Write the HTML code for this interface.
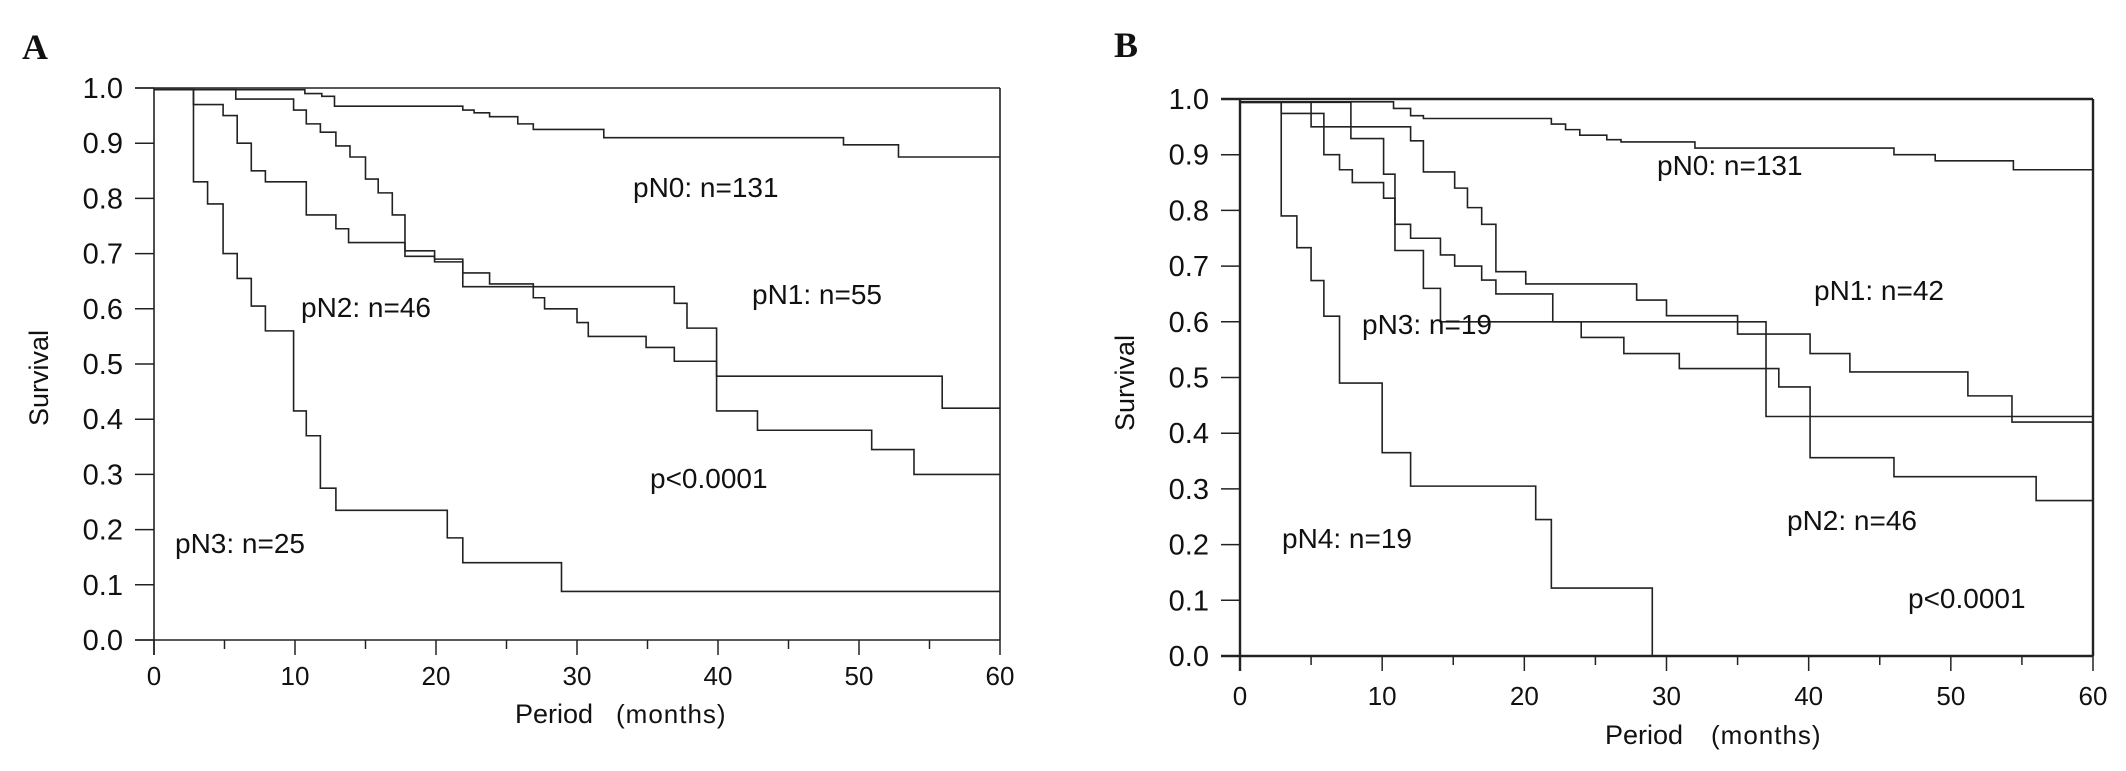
<!DOCTYPE html>
<html><head><meta charset="utf-8">
<style>
html,body{margin:0;padding:0;background:#fff;}
svg{display:block;}
text{font-family:"Liberation Sans",Arial,sans-serif;fill:#111;}
</style></head>
<body>
<svg id="fig" width="2126" height="771" viewBox="0 0 2126 771" xmlns="http://www.w3.org/2000/svg">
  <text x="22" y="59" style="font-family:'Liberation Serif',serif;font-weight:bold;font-size:36px">A</text>
  <text x="1114" y="57" style="font-family:'Liberation Serif',serif;font-weight:bold;font-size:36px">B</text>
  <g id="panelA"></g>
  <g id="panelB"></g>
</svg>
<script>
// ---------- data ----------
const xTicks = [0,10,20,30,40,50,60];
const yTicks = [0.0,0.1,0.2,0.3,0.4,0.5,0.6,0.7,0.8,0.9,1.0];

// Panel A
const aN0Times = [10.7,11.9,12.8,21.9,22.7,23.8,25.8,26.9,31.9,48.9,52.8];
const aN0Surv  = [0.99,0.985,0.967,0.96,0.955,0.948,0.935,0.925,0.91,0.897,0.875];
const aN1Times = [5.8,9.9,10.8,11.8,12.9,13.9,15.0,15.9,16.9,17.8,19.9,21.9,23.8,26.9,27.7,30.0,30.8,34.9,36.9,39.9,42.8,50.9,53.9];
const aN1Surv  = [0.98,0.96,0.935,0.92,0.895,0.875,0.835,0.81,0.77,0.695,0.685,0.665,0.645,0.62,0.60,0.575,0.55,0.53,0.505,0.415,0.38,0.345,0.30];
const aN2Times = [2.8,4.9,5.9,6.9,7.9,10.8,12.9,13.8,17.8,19.9,21.9,36.9,37.8,39.9,55.9];
const aN2Surv  = [0.97,0.95,0.90,0.85,0.83,0.77,0.745,0.72,0.705,0.69,0.64,0.61,0.565,0.478,0.42];
const aN3Times = [2.8,3.8,4.9,5.9,6.9,7.9,9.9,10.8,11.8,12.9,20.8,21.9,28.9];
const aN3Surv  = [0.83,0.79,0.70,0.655,0.605,0.56,0.415,0.37,0.275,0.235,0.185,0.14,0.088];

// Panel B
const bN0Times = [10.8,12.0,12.9,21.9,22.9,23.9,25.8,26.8,32.0,46.0,48.9,54.4];
const bN0Surv  = [0.983,0.97,0.965,0.955,0.945,0.935,0.927,0.923,0.912,0.90,0.889,0.873];
const bN1Times = [5.0,12.0,12.9,15.1,16.0,17.0,18.0,20.1,27.9,30.0,35.0,40.1,42.9,51.2,54.3];
const bN1Surv  = [0.95,0.925,0.869,0.84,0.805,0.775,0.69,0.668,0.639,0.611,0.578,0.543,0.510,0.467,0.42];
const bN2Times = [2.9,5.9,7.0,7.9,10.1,10.9,12.0,14.1,15.1,17.0,18.0,22.0,24.0,27.0,30.9,37.9,40.1,46.0,56.0];
const bN2Surv  = [0.974,0.90,0.873,0.85,0.822,0.775,0.75,0.72,0.70,0.675,0.65,0.60,0.572,0.543,0.516,0.483,0.356,0.322,0.279];
const bN3Times = [7.8,10.1,10.9,12.9,14.1,37.0];
const bN3Surv  = [0.929,0.865,0.728,0.66,0.60,0.43];
const bN4Times = [2.9,4.0,5.0,5.9,7.0,10.0,12.0,20.8,21.9,29.0];
const bN4Surv  = [0.79,0.733,0.674,0.61,0.49,0.365,0.305,0.245,0.122,0.0];

const NS = "http://www.w3.org/2000/svg";
function mk(tag, attrs, parent){
  const e = document.createElementNS(NS, tag);
  for (const k in attrs) e.setAttribute(k, attrs[k]);
  parent.appendChild(e);
  return e;
}

function buildPanel(g, cfg){
  const sx = m => cfg.x0 + (cfg.x60 - cfg.x0) * m / 60;
  const sy = s => cfg.y0 - (cfg.y0 - cfg.y1) * s;
  const ax = mk('g', {}, g);
  
  
  // frame lines
  const lw = cfg.lw;
  const top = mk('line', {x1: cfg.x0 - 19, y1: sy(1), x2: sx(60), y2: sy(1), stroke: '#222', 'stroke-width': lw}, ax);
  
  
  const right = mk('line', {x1: sx(60), y1: sy(1), x2: sx(60), y2: sy(0), stroke: '#222', 'stroke-width': lw}, ax);
  
  
  const xa = mk('line', {x1: cfg.x0 - 19, y1: sy(0), x2: sx(60), y2: sy(0), stroke: '#222', 'stroke-width': lw}, ax);
  
  
  const ya = mk('line', {x1: cfg.x0, y1: sy(1), x2: cfg.x0, y2: sy(0) + 15, stroke: '#222', 'stroke-width': lw}, ax);
  
  
  // y ticks
  yTicks.forEach(v => {
    const t = mk('line', {x1: cfg.x0 - 19, y1: sy(v), x2: cfg.x0, y2: sy(v), stroke: '#222', 'stroke-width': 1.5}, ax);
    
    
    const l = mk('text', {x: cfg.x0 - 31, y: sy(v) + 10, 'text-anchor': 'end', 'font-size': 29}, ax);
    l.textContent = v.toFixed(1);
    
    
  });
  // x ticks
  for (let m = 0; m <= 60; m += 5) {
    const major = m % 10 === 0;
    const t = mk('line', {x1: sx(m), y1: sy(0), x2: sx(m), y2: sy(0) + (major ? 15 : 9), stroke: '#222', 'stroke-width': 1.5}, ax);
    
    
  }
  xTicks.forEach(m => {
    const l = mk('text', {x: sx(m), y: cfg.xlabY, 'text-anchor': 'middle', 'font-size': 26}, ax);
    l.textContent = String(m);
    
    
  });
  // axis titles
  const xt = mk('text', {x: cfg.periodX, y: cfg.periodY, 'font-size': 27}, ax);
  xt.textContent = 'Period';
  
  
  const xu = mk('text', {x: cfg.monthsX, y: cfg.periodY, 'font-size': 26, 'letter-spacing': '1'}, ax);
  xu.textContent = '(months)';
  
  
  const yt = mk('text', {x: 0, y: 0, 'font-size': 27, 'text-anchor': 'middle', transform: 'translate(' + cfg.survX + ',' + cfg.survY + ') rotate(-90)'}, ax);
  yt.textContent = 'Survival';
  
  

  // curves
  cfg.series.forEach(sr => {
    let s = sr.start;
    let d = 'M' + sx(0) + ',' + sy(s);
    sr.times.forEach((t, i) => {
      d += ' H' + sx(t) + ' V' + sy(sr.surv[i]);
      s = sr.surv[i];
    });
    if (s > 0) d += ' H' + sx(60);
    const p = mk('path', {d: d, fill: 'none', stroke: '#222', 'stroke-width': 1.6}, g);
    
    
  });
  // annotations
  cfg.notes.forEach(n => {
    const t = mk('text', {x: n.x, y: n.y, 'font-size': 28}, g);
    t.textContent = n.text;
    
    
  });
}

buildPanel(document.getElementById('panelA'), {
  id: 'panel-a', x0: 154, x60: 1000, y1: 88, y0: 640, lw: 1.6, xlabY: 685,
  periodX: 515, monthsX: 616, periodY: 723, survX: 48, survY: 378,
  series: [
    {name: 'pn0-curve', start: 0.997, times: aN0Times, surv: aN0Surv},
    {name: 'pn1-curve', start: 0.997, times: aN1Times, surv: aN1Surv},
    {name: 'pn2-curve', start: 0.997, times: aN2Times, surv: aN2Surv},
    {name: 'pn3-curve', start: 0.997, times: aN3Times, surv: aN3Surv}
  ],
  notes: [
    {text: 'pN0: n=131', x: 633, y: 197, name: 'pn0-annotation'},
    {text: 'pN1: n=55', x: 752, y: 304, name: 'pn1-annotation'},
    {text: 'pN2: n=46', x: 301, y: 317, name: 'pn2-annotation'},
    {text: 'pN3: n=25', x: 175, y: 553, name: 'pn3-annotation'},
    {text: 'p<0.0001', x: 650, y: 488, name: 'p-value'}
  ]
});

buildPanel(document.getElementById('panelB'), {
  id: 'panel-b', x0: 1240, x60: 2093, y1: 99, y0: 656, lw: 2.4, xlabY: 705,
  periodX: 1605, monthsX: 1711, periodY: 744, survX: 1134, survY: 383,
  series: [
    {name: 'pn0-curve', start: 0.995, times: bN0Times, surv: bN0Surv},
    {name: 'pn1-curve', start: 0.994, times: bN1Times, surv: bN1Surv},
    {name: 'pn2-curve', start: 0.994, times: bN2Times, surv: bN2Surv},
    {name: 'pn3-curve', start: 0.994, times: bN3Times, surv: bN3Surv},
    {name: 'pn4-curve', start: 0.994, times: bN4Times, surv: bN4Surv}
  ],
  notes: [
    {text: 'pN0: n=131', x: 1657, y: 175, name: 'pn0-annotation'},
    {text: 'pN1: n=42', x: 1814, y: 300, name: 'pn1-annotation'},
    {text: 'pN3: n=19', x: 1362, y: 334, name: 'pn3-annotation'},
    {text: 'pN2: n=46', x: 1787, y: 530, name: 'pn2-annotation'},
    {text: 'pN4: n=19', x: 1282, y: 548, name: 'pn4-annotation'},
    {text: 'p<0.0001', x: 1908, y: 608, name: 'p-value'}
  ]
});
</script>
</body></html>
